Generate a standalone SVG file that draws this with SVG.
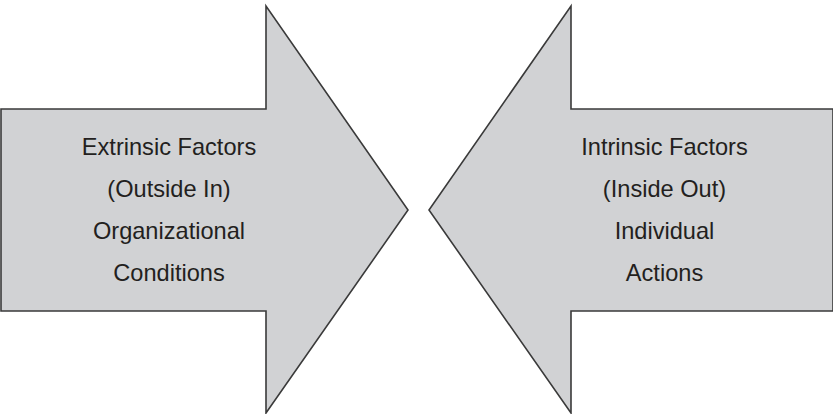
<svg xmlns="http://www.w3.org/2000/svg" width="833" height="414" viewBox="0 0 833 414">
<style>
.arrow{fill:#d1d2d4;stroke:#3a3a3a;stroke-width:1.6;stroke-linejoin:miter}
.lbl{font-family:"Liberation Sans",Arial,sans-serif;font-size:23.6px;fill:#231f20;text-anchor:middle}
</style>
<rect width="833" height="414" fill="#ffffff"/>
<g id="extrinsic">
<polygon class="arrow" points="1,109 266,109 266,6 408,210 266,413 266,311 1,311"/>
<text class="lbl" x="169" y="155">Extrinsic Factors</text>
<text class="lbl" x="169" y="197">(Outside In)</text>
<text class="lbl" x="169" y="239">Organizational</text>
<text class="lbl" x="169" y="281">Conditions</text>
</g>
<g id="intrinsic">
<polygon class="arrow" points="833,109 571,109 571,6 429,210 571,413 571,311 833,311"/>
<text class="lbl" x="664.5" y="155">Intrinsic Factors</text>
<text class="lbl" x="664.5" y="197">(Inside Out)</text>
<text class="lbl" x="664.5" y="239">Individual</text>
<text class="lbl" x="664.5" y="281">Actions</text>
</g>
<g id="connectors"></g>
</svg>
